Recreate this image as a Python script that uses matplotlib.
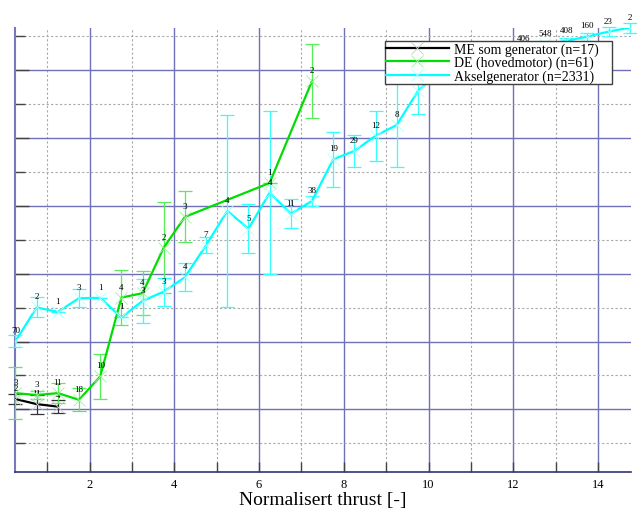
import matplotlib
matplotlib.use("Agg")
import matplotlib.pyplot as plt
from matplotlib.ticker import MultipleLocator, NullFormatter


# ME som generator
X_ME = [0.25, 0.75, 1.25]
Y_ME = [1.152, 1.078, 1.041]
ERR_ME = [0.07, 0.14, 0.096]
N_ME = [2, 11, 4]

# DE (hovedmotor)
X_DE = [0.25, 0.75, 1.25, 1.75, 2.25, 2.75, 3.25, 3.75, 4.25, 6.25, 7.25]
Y_DE = [1.240, 1.211, 1.240, 1.141, 1.486, 2.647, 2.713, 3.384, 3.837, 4.337, 5.839]
ERR_DE = [0.387, 0.06, 0.152, 0.169, 0.331, 0.405, 0.324, 0.675, 0.376, 0.0, 0.540]
N_DE = [3, 3, 11, 18, 10, 4, 4, 2, 3, 1, 2]

# Akselgenerator
X_AKS = [0.25, 0.75, 1.25, 1.75, 2.25, 2.75, 3.25, 3.75, 4.25, 4.75,
         5.25, 5.75, 6.25, 6.75, 7.25, 7.75, 8.25, 8.75, 9.25, 9.75,
         10.25, 10.75, 11.25, 11.75, 12.25, 12.75, 13.25, 13.75, 14.25, 14.75]
Y_AKS = [2.006, 2.502, 2.437, 2.639, 2.644, 2.355, 2.599, 2.735, 2.948, 3.420,
         3.925, 3.663, 4.193, 3.884, 4.072, 4.686, 4.809, 5.032, 5.191, 5.692,
         5.967, 6.012, 6.071, 6.159, 6.306, 6.380, 6.429, 6.494, 6.567, 6.626]
ERR_AKS = [0.088, 0.147, 0.0, 0.133, 0.0, 0.0, 0.324, 0.206, 0.206, 0.118,
           1.414, 0.364, 1.200, 0.211, 0.078, 0.405, 0.240, 0.368, 0.619, 0.343,
           0.177, 0.147, 0.147, 0.118, 0.059, 0.044, 0.044, 0.059, 0.069, 0.074]
N_AKS = [70, 2, 1, 3, 1, 1, 3, 3, 4, 7,
         4, 5, 4, 11, 38, 19, 29, 12, 8, 61,
         84, 112, 138, 164, 406, 548, 408, 160, 23, 2]

SERIES = [
    ("ME som generator (n=17)", X_ME, Y_ME, ERR_ME, N_ME, "#000000", "#c8c8c8", "#333333"),
    ("DE (hovedmotor) (n=61)", X_DE, Y_DE, ERR_DE, N_DE, "#00dd00", "#a0f0a0", "#55ee55"),
    ("Akselgenerator (n=2331)", X_AKS, Y_AKS, ERR_AKS, N_AKS, "#00ffff", "#b0ffff", "#33ffff"),
]


def _style():
    plt.rcParams.update(
        {
            "font.family": "serif",
            "font.serif": ["Liberation Serif", "DejaVu Serif"],
            "font.size": 9,
            "figure.dpi": 100,
        }
    )


def main():
    _style()
    fig = plt.figure(figsize=(6.37, 5.10))
    ax = fig.add_axes([0.0243, 0.0725, 0.9663, 0.8706])

    handles = []
    for label, xs, ys, errs, ns, color, mcolor, ecolor in SERIES:
        ax.errorbar(xs, ys, yerr=errs, fmt="none", ecolor=ecolor, elinewidth=0.9,
                    capsize=5, capthick=0.9, zorder=3, clip_on=False)
        (ln,) = ax.plot(xs, ys, color=color, linewidth=1.6, marker="x", markersize=9,
                        markeredgewidth=0.6, markeredgecolor=mcolor, label=label, zorder=4)
        handles.append(ln)
        for x, y, n in zip(xs, ys, ns):
            ax.annotate(str(n), (x, y), xytext=(0, 8), textcoords="offset points",
                        ha="center", va="center", fontsize=6.5, zorder=4,
                        annotation_clip=False)

    ax.set_xlim(0.25, 14.78)
    ax.set_ylim(0.077, 6.62)
    ax.xaxis.set_major_locator(MultipleLocator(2))
    ax.xaxis.set_minor_locator(MultipleLocator(1))
    ax.yaxis.set_major_locator(MultipleLocator(1))
    ax.yaxis.set_minor_locator(MultipleLocator(0.5))
    ax.yaxis.set_major_formatter(NullFormatter())

    ax.set_axisbelow(True)
    ax.grid(which="major", color="#7070b8", linewidth=1.0, linestyle="-")
    ax.grid(which="minor", color="#a8a8a8", linewidth=0.8, linestyle=(0, (2, 2)))

    ax.tick_params(which="both", direction="in", length=7, width=1, color="#444444",
                   labelsize=9, pad=4, top=False, right=False)
    ax.tick_params(axis="y", which="major", length=10)

    for side in ("top", "right"):
        ax.spines[side].set_visible(False)
    ax.spines["left"].set_color("#7777bb")
    ax.spines["left"].set_linewidth(1.5)
    ax.spines["bottom"].set_color("#333377")
    ax.spines["bottom"].set_linewidth(1.2)

    ax.set_xlabel("Normalisert thrust [-]", fontsize=14, labelpad=1)

    # box spans roughly x 0.60-0.97, top at 0.97 of the axes
    leg = ax.legend(handles=handles, loc="upper left", bbox_to_anchor=(0.600, 0.878, 0.369, 0.093),
                    mode="expand", borderaxespad=0, fontsize=10, numpoints=1,
                    handlelength=4.5, handletextpad=0.35, borderpad=0.1, labelspacing=0.0,
                    fancybox=False, framealpha=1, edgecolor="#404040")
    leg.get_frame().set_linewidth(1.0)
    leg.set_zorder(10)

    fig.savefig("out.png", dpi=100)
    plt.close(fig)


if __name__ == "__main__":
    main()
